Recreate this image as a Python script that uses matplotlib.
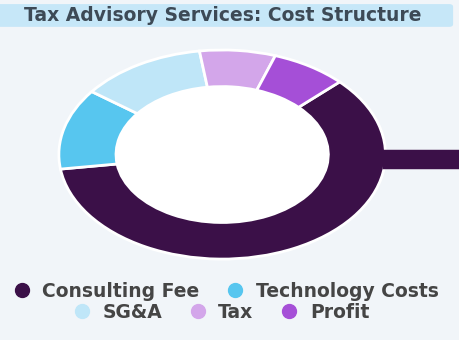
import matplotlib
matplotlib.use("Agg")
import matplotlib.pyplot as plt
from matplotlib.lines import Line2D
from matplotlib.patches import FancyBboxPatch, Circle

# data
labels = ["Consulting Fee", "Technology Costs", "SG&A", "Tax", "Profit"]
values = [60, 12.5, 12.5, 7.5, 7.5]
colors = ["#3b1048", "#57c6ef", "#bfe6f8", "#d3a6ea", "#a54fd7"]
title = "Tax Advisory Services: Cost Structure"

bg = "#f1f5f9"
fig = plt.figure(figsize=(4.6, 3.4), dpi=100)
fig.patch.set_facecolor(bg)

# title banner
fig.patches.append(FancyBboxPatch((-0.02, 0.921), 1.005, 0.067,
                                  boxstyle="round,pad=0,rounding_size=0.008",
                                  transform=fig.transFigure, facecolor="#c6e7f8",
                                  edgecolor="none"))
fig.text(0.485, 0.953, title, ha="center", va="center", fontsize=13.5,
         fontweight="bold", color="#3d4a56")

# donut (stretched to an ellipse like the original)
ax = fig.add_axes([0.128, 0.238, 0.71, 0.615])
ax.set_facecolor("none")
ax.pie(values, colors=colors, startangle=44, counterclock=False, radius=1,
       wedgeprops=dict(width=0.35, edgecolor="white", linewidth=2))
ax.add_patch(Circle((0, 0), 0.65, facecolor="white", edgecolor="none"))
ax.set_aspect("auto")
ax.set_xlim(-1, 1)
ax.set_ylim(-1, 1)
ax.axis("off")

# connector bar to the right
ax.plot([0.98, 1.5], [-0.04, -0.04], color=colors[0], lw=14, solid_capstyle="butt",
        clip_on=False)

# legend in two rows
def handle(c):
    return Line2D([], [], marker="o", ls="none", markersize=10,
                  markerfacecolor=c, markeredgecolor=c)

kw = dict(loc="center", frameon=False, handletextpad=0.6,
          columnspacing=1.4, handlelength=1.0, labelcolor="#454545",
          prop=dict(size=13.5, weight="bold"))
leg1 = fig.legend([handle(c) for c in colors[:2]], labels[:2], ncol=2,
                  bbox_to_anchor=(0.49, 0.143), **kw)
leg2 = fig.legend([handle(c) for c in colors[2:]], labels[2:], ncol=3,
                  bbox_to_anchor=(0.48, 0.081), **kw)

fig.savefig("out.png", dpi=100, facecolor=bg)
